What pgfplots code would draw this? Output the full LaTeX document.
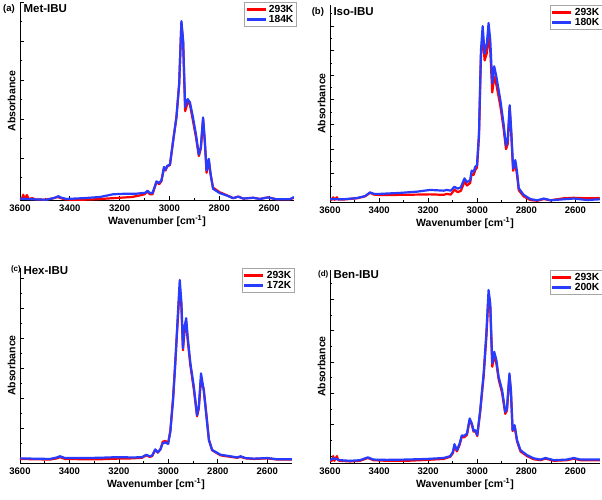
\documentclass[border=0pt]{standalone}
\usepackage{pgfplots}
\pgfplotsset{compat=1.18}
\usepackage{fontspec}
\setmainfont{Liberation Sans}
\definecolor{cred}{RGB}{255,0,0}
\definecolor{cblue}{RGB}{40,60,255}
\pgfplotsset{panel/.style={
  scale only axis, anchor=south west, clip mode=individual,
  xmin=2500, xmax=3600, x dir=reverse,
  axis x line*=bottom, axis y line*=left,
  xtick={2600,2800,...,3600}, minor x tick num=1,
  ytick={0,1,...,8}, minor y tick num=1, yticklabels={},
  tick align=inside, major tick length=4pt, minor tick length=2pt,
  every tick/.style={black, line width=0.7pt},
  axis line style={line width=0.9pt, -},
  xlabel={Wavenumber [cm\textsuperscript{-1}]}, ylabel={Absorbance},
  label style={font=\bfseries\fontsize{10.5}{11}\selectfont},
  tick label style={font=\bfseries\fontsize{9.5}{10}\selectfont},
  /pgf/number format/assume math mode=true,
  /pgf/number format/set thousands separator={},
  xticklabel style={yshift=-1pt},
  xlabel style={yshift=3pt},
  ylabel style={yshift=-6pt},
  legend style={at={(1.01,1.0)}, anchor=north east, draw=gray!70, line width=0.6pt,
    font=\bfseries\fontsize{10.3}{10.5}\selectfont, inner sep=1pt, row sep=-3pt,
    cells={anchor=east}},
  legend image code/.code={\draw[#1, line width=2.6pt] (0pt,0pt) -- (19pt,0pt);},
  every axis plot/.append style={line width=2.2pt, line join=round},
}}
\begin{document}
\begin{tikzpicture}
\path[use as bounding box] (0pt,0pt) rectangle (602pt,499pt);
% (a)
\begin{axis}[panel, at={(20pt,299pt)}, width=274pt, height=198pt, ymin=-0.077, ymax=5.0]
\addplot[cred] coordinates {(3600,-0.04)(3592,-0.05)(3587,0.06)(3582,-0.05)(3572,0.05)(3566,-0.05)(3550,-0.03)(3540,-0.06)(3500,-0.07)(3470,-0.04)(3450,0.0)(3440,-0.02)(3420,-0.06)(3400,-0.07)(3350,-0.07)(3300,-0.06)(3250,-0.04)(3200,-0.02)(3150,0.0)(3120,0.04)(3100,0.07)(3088,0.14)(3079,0.07)(3068,0.07)(3052,0.38)(3041,0.33)(3032,0.41)(3022,0.74)(3016,0.68)(3009,0.78)(2998,0.82)(2985,1.45)(2972,2.05)(2961,2.9)(2952,4.47)(2945,3.95)(2937,2.2)(2927,2.42)(2918,2.38)(2907,2.0)(2894,1.55)(2882,1.05)(2874,1.24)(2865,2.0)(2858,1.4)(2851,0.62)(2842,0.92)(2835,0.58)(2825,0.24)(2798,0.12)(2771,0.05)(2744,-0.03)(2724,0.01)(2704,-0.04)(2664,-0.02)(2637,-0.05)(2604,-0.01)(2570,-0.06)(2517,-0.06)(2500,-0.02)};
\addlegendentry{293K}
\addplot[cblue] coordinates {(3600,-0.04)(3547,-0.06)(3493,-0.07)(3460,-0.02)(3446,0.02)(3433,-0.02)(3413,-0.05)(3346,-0.03)(3279,0)(3226,0.07)(3172,0.085)(3132,0.085)(3112,0.1)(3099,0.1)(3088,0.16)(3079,0.1)(3068,0.1)(3052,0.4)(3041,0.36)(3032,0.43)(3022,0.77)(3016,0.70)(3009,0.80)(2998,0.83)(2985,1.45)(2972,2.04)(2961,2.89)(2952,4.51)(2945,4.0)(2937,2.31)(2927,2.51)(2918,2.43)(2907,2.09)(2894,1.62)(2882,1.09)(2874,1.28)(2865,2.04)(2858,1.45)(2851,0.68)(2842,0.98)(2835,0.60)(2825,0.21)(2798,0.1)(2771,0.04)(2744,-0.03)(2724,0.01)(2704,-0.04)(2664,-0.02)(2637,-0.05)(2604,-0.01)(2570,-0.06)(2517,-0.06)(2500,0)};
\addlegendentry{184K}
\node[font=\bfseries\fontsize{9.5}{10}\selectfont, anchor=center] at (axis description cs:-0.04,0.965) {(a)};
\node[font=\bfseries\fontsize{11.5}{12}\selectfont, anchor=west] at (axis description cs:0.0,0.965) {Met-IBU};
\end{axis}
% (b)
\begin{axis}[panel, at={(330pt,297pt)}, width=270pt, height=197pt, ymin=-0.15, ymax=7.85]
\addplot[cred] coordinates {(3600,-0.04)(3592,-0.06)(3587,0.04)(3582,-0.06)(3572,0.04)(3566,-0.05)(3546,-0.05)(3491,0.0)(3457,0.08)(3437,0.22)(3420,0.15)(3396,0.13)(3314,0.14)(3246,0.15)(3192,0.16)(3137,0.14)(3124,0.18)(3108,0.15)(3093,0.35)(3080,0.25)(3067,0.3)(3052,0.68)(3042,0.52)(3029,0.62)(3023,0.98)(3015,0.95)(3008,1.15)(3001,1.25)(2993,2.5)(2985,5.8)(2978,6.6)(2970,5.6)(2961,5.9)(2954,6.6)(2947,6.0)(2939,4.3)(2931,4.95)(2922,4.6)(2906,3.75)(2893,2.85)(2883,2.0)(2876,2.2)(2868,3.7)(2861,2.5)(2854,1.12)(2845,1.4)(2838,0.95)(2831,0.33)(2811,0.08)(2784,-0.07)(2756,-0.1)(2729,-0.03)(2702,-0.08)(2648,0.0)(2607,0.02)(2552,0.0)(2501,0.01)};
\addlegendentry{293K}
\addplot[cblue] coordinates {(3600,-0.03)(3546,-0.04)(3491,0.01)(3457,0.09)(3437,0.24)(3420,0.18)(3396,0.18)(3314,0.22)(3246,0.27)(3192,0.34)(3137,0.31)(3124,0.34)(3108,0.31)(3093,0.47)(3080,0.39)(3067,0.45)(3052,0.81)(3042,0.65)(3029,0.74)(3023,1.12)(3015,1.08)(3008,1.28)(3001,1.35)(2993,2.64)(2985,6.01)(2978,6.99)(2970,5.88)(2961,6.28)(2954,7.12)(2947,6.42)(2939,4.66)(2931,5.36)(2922,4.93)(2906,3.99)(2893,3.04)(2883,2.14)(2876,2.36)(2868,3.78)(2861,2.64)(2854,1.22)(2845,1.55)(2838,1.08)(2831,0.41)(2811,0.14)(2784,-0.03)(2756,-0.08)(2729,-0.01)(2702,-0.08)(2648,-0.04)(2607,-0.01)(2552,-0.07)(2501,-0.04)};
\addlegendentry{180K}
\node[font=\bfseries\fontsize{9.5}{10}\selectfont, anchor=center] at (axis description cs:-0.045,0.965) {(b)};
\node[font=\bfseries\fontsize{11.5}{12}\selectfont, anchor=west] at (axis description cs:0.0,0.965) {Iso-IBU};
\end{axis}
% (c)
\begin{axis}[panel, at={(20pt,36pt)}, width=272pt, height=195pt, ymin=-0.155, ymax=6.34]
\addplot[cred] coordinates {(3600,-0.02)(3546,-0.03)(3478,-0.04)(3451,0.0)(3438,0.04)(3418,-0.02)(3343,-0.03)(3276,-0.03)(3208,-0.01)(3141,0.0)(3107,0.02)(3089,0.1)(3076,0.05)(3066,0.07)(3053,0.28)(3043,0.19)(3032,0.3)(3023,0.55)(3012,0.58)(3001,0.5)(2992,0.92)(2981,2.0)(2972,3.2)(2962,4.6)(2954,5.7)(2947,5.0)(2941,3.6)(2934,4.3)(2928,4.55)(2922,3.95)(2911,3.1)(2897,2.3)(2884,1.4)(2877,1.65)(2868,2.62)(2857,2.3)(2846,1.45)(2836,0.62)(2823,0.27)(2789,0.1)(2749,0.05)(2722,0.02)(2708,0.05)(2688,0.0)(2654,-0.02)(2600,0.0)(2559,-0.04)(2495,-0.04)};
\addlegendentry{293K}
\addplot[cblue] coordinates {(3600,0)(3546,-0.01)(3478,-0.02)(3451,0.03)(3438,0.07)(3418,0.01)(3343,0.01)(3276,0.02)(3208,0.04)(3141,0.03)(3107,0.04)(3089,0.12)(3076,0.07)(3066,0.09)(3053,0.30)(3043,0.2)(3032,0.30)(3023,0.5)(3012,0.53)(3001,0.48)(2992,0.89)(2981,1.94)(2972,3.17)(2962,4.72)(2954,5.94)(2947,5.17)(2941,3.67)(2934,4.39)(2928,4.67)(2922,4.06)(2911,3.17)(2897,2.39)(2884,1.44)(2877,1.72)(2868,2.83)(2857,2.28)(2846,1.39)(2836,0.61)(2823,0.28)(2789,0.12)(2749,0.07)(2722,0.03)(2708,0.07)(2688,0.01)(2654,-0.01)(2600,0.01)(2559,-0.03)(2500,-0.03)};
\addlegendentry{172K}
\node[font=\bfseries\fontsize{8}{9}\selectfont, anchor=center] at (axis description cs:-0.015,0.995) {(c)};
\node[font=\bfseries\fontsize{11.5}{12}\selectfont, anchor=west] at (axis description cs:0.0,0.985) {Hex-IBU};
\end{axis}
% (d)
\begin{axis}[panel, at={(330pt,36pt)}, width=270pt, height=193pt, ymin=-0.22, ymax=5.94]
\addplot[cred] coordinates {(3600,-0.15)(3592,-0.15)(3587,0.0)(3582,-0.15)(3572,0.0)(3566,-0.14)(3559,-0.15)(3518,-0.17)(3478,-0.15)(3446,-0.06)(3423,-0.13)(3369,-0.15)(3287,-0.15)(3205,-0.12)(3137,-0.09)(3110,-0.02)(3099,0.1)(3093,0.33)(3083,0.15)(3072,0.36)(3063,0.62)(3053,0.6)(3042,0.68)(3031,1.15)(3022,1.0)(3015,0.78)(3008,0.8)(3000,0.64)(2988,1.42)(2974,2.55)(2963,3.8)(2954,5.15)(2947,4.75)(2939,2.85)(2931,3.22)(2922,2.95)(2913,2.45)(2899,2.02)(2886,1.35)(2879,1.46)(2869,2.58)(2863,2.05)(2856,0.8)(2848,0.95)(2838,0.47)(2824,0.15)(2797,0.0)(2770,-0.1)(2743,-0.13)(2722,-0.08)(2688,-0.15)(2634,-0.13)(2607,-0.08)(2580,-0.13)(2501,-0.13)};
\addlegendentry{293K}
\addplot[cblue] coordinates {(3600,-0.13)(3586,-0.07)(3559,-0.13)(3518,-0.15)(3478,-0.13)(3446,-0.04)(3423,-0.11)(3369,-0.12)(3287,-0.11)(3205,-0.09)(3137,-0.06)(3110,0)(3099,0.14)(3093,0.38)(3083,0.19)(3072,0.40)(3063,0.66)(3053,0.65)(3042,0.72)(3031,1.2)(3022,1.04)(3015,0.81)(3008,0.83)(3000,0.67)(2988,1.47)(2974,2.64)(2963,3.91)(2954,5.30)(2947,4.87)(2939,2.96)(2931,3.33)(2922,3.06)(2913,2.53)(2899,2.11)(2886,1.41)(2879,1.52)(2869,2.64)(2863,2.11)(2856,0.83)(2848,0.99)(2838,0.51)(2824,0.19)(2797,0.03)(2770,-0.07)(2743,-0.11)(2722,-0.06)(2688,-0.13)(2634,-0.11)(2607,-0.06)(2580,-0.11)(2501,-0.11)};
\addlegendentry{200K}
\node[font=\bfseries\fontsize{8}{9}\selectfont, anchor=center] at (axis description cs:-0.025,0.975) {(d)};
\node[font=\bfseries\fontsize{11.5}{12}\selectfont, anchor=west] at (axis description cs:0.0,0.975) {Ben-IBU};
\end{axis}
\end{tikzpicture}
\end{document}
